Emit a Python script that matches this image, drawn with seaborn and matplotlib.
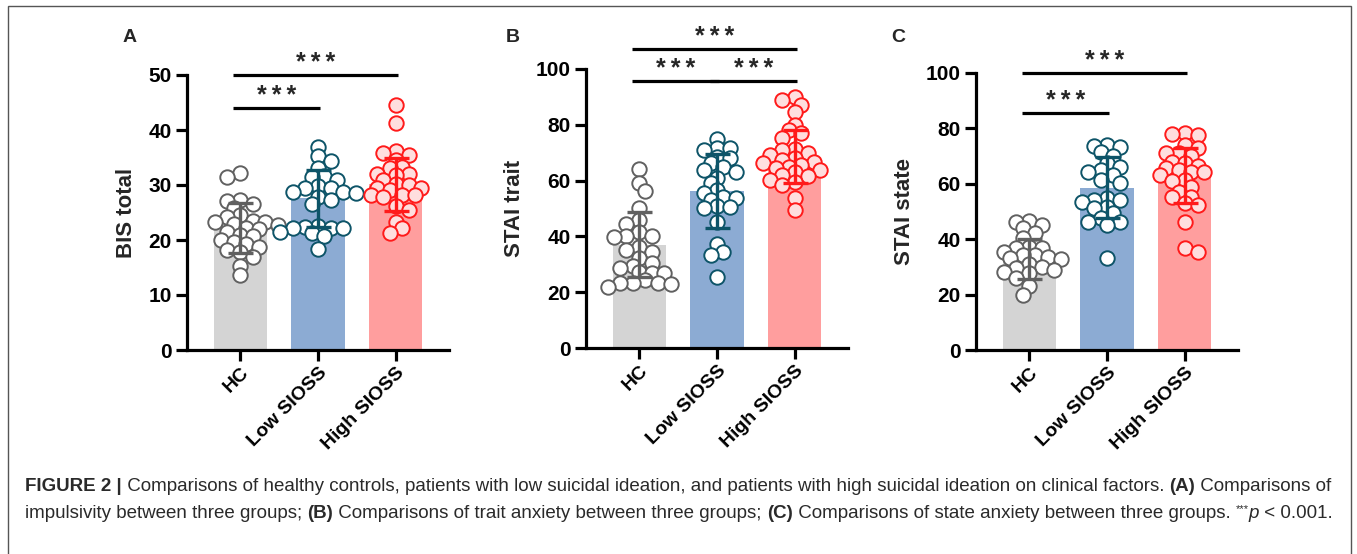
import numpy as np
import matplotlib
matplotlib.use("Agg")
import matplotlib.pyplot as plt
import seaborn as sns
from matplotlib.patches import Rectangle

# ---------------- data ----------------
groups = ["HC", "Low SIOSS", "High SIOSS"]

bis_hc = [32.2, 31.4, 27.3, 27.0, 26.5, 25.8, 24.5, 24.2, 23.5, 23.3, 23.2, 23.0, 22.8,
          22.2, 22.0, 21.5, 21.0, 20.7, 20.0, 19.7, 19.2, 18.8, 18.2, 17.8, 17.0, 15.3, 13.6]
bis_low = [36.9, 35.2, 34.3, 33.0, 31.6, 31.5, 30.9, 29.8, 29.4, 29.4, 28.8, 28.8, 28.5,
           27.8, 27.3, 26.5, 22.6, 22.4, 22.2, 22.2, 22.1, 21.5, 21.3, 20.8, 18.3]
bis_high = [44.5, 41.2, 36.2, 35.8, 35.5, 34.5, 33.3, 33.0, 32.0, 32.0, 31.8, 30.9, 30.2,
            30.0, 29.4, 29.4, 29.1, 28.2, 28.2, 28.2, 27.9, 26.1, 25.5, 23.3, 22.2, 21.2]

trait_hc = [64.2, 59.1, 56.2, 50.3, 46.0, 44.4, 41.5, 40.3, 40.1, 39.9, 36.3, 35.1, 34.5,
            32.1, 30.4, 29.5, 28.6, 27.3, 26.8, 26.8, 24.4, 23.2, 23.2, 23.2, 22.9, 22.0]
trait_low = [75.0, 71.8, 71.6, 70.8, 68.6, 68.0, 66.2, 65.0, 63.8, 63.2, 61.0, 59.0, 56.6,
             55.4, 54.3, 53.7, 53.0, 50.8, 50.6, 50.2, 45.3, 37.2, 34.5, 33.3, 25.3]
trait_high = [90.0, 88.8, 87.0, 84.7, 80.0, 78.0, 77.0, 75.2, 71.2, 70.9, 69.8, 69.0, 68.0,
              67.4, 66.8, 66.2, 65.5, 65.0, 64.4, 63.8, 63.0, 62.0, 61.5, 60.2, 59.5, 58.4,
              53.7, 49.5]

state_hc = [46.5, 46.2, 45.0, 44.0, 42.3, 40.5, 37.3, 37.0, 36.7, 35.5, 34.3, 34.2, 33.7,
            33.2, 33.0, 31.0, 30.1, 29.5, 29.0, 28.3, 27.7, 25.9, 23.0, 20.0]
state_low = [74.0, 73.8, 73.4, 71.6, 70.0, 67.4, 66.0, 65.0, 64.4, 63.2, 61.4, 60.2, 55.0,
             54.2, 54.2, 53.5, 51.7, 51.1, 49.3, 47.5, 46.3, 46.3, 45.1, 33.1]
state_high = [78.2, 78.0, 77.6, 74.0, 72.8, 71.0, 71.0, 70.0, 68.0, 67.4, 66.5, 65.6, 65.0,
              64.4, 64.4, 63.0, 61.4, 61.0, 59.0, 57.2, 55.4, 55.1, 53.0, 52.3, 46.3, 36.7,
              35.5]

bis_mean = [22.1, 27.6, 30.1]
bis_sd = [4.55, 5.15, 4.85]
trait_mean = [37.0, 56.4, 68.5]
trait_sd = [11.6, 13.3, 9.5]
state_mean = [33.0, 58.5, 63.1]
state_sd = [7.2, 11.0, 9.9]

panel_letters = ["A", "B", "C"]
y_labels = ["BIS total", "STAI trait", "STAI state"]
y_ticks = [[0, 10, 20, 30, 40, 50], [0, 20, 40, 60, 80, 100], [0, 20, 40, 60, 80, 100]]
sig_label = "*\u2009*\u2009*"

# significance brackets: (group_from, group_to, y)
sig_a = [(0, 1, 44.0), (0, 2, 50.0)]
sig_b = [(0, 1, 95.7), (1, 2, 95.7), (0, 2, 107.0)]
sig_c = [(0, 1, 85.5), (0, 2, 100.0)]

# ---------------- style ----------------
sns.set_theme(style="white")
plt.rcParams["font.family"] = ["Liberation Sans", "DejaVu Sans"]

bar_colors = ["#d4d4d4", "#8cabd3", "#ff9e9e"]
edge_colors = ["#606060", "#0d5468", "#ff1a1a"]
face_colors = ["#ffffff", "#ffffff", "#ffdede"]

W, H = 1357, 554
fig = plt.figure(figsize=(W / 100, H / 100), dpi=100)
fig.patch.set_facecolor("white")

# outer frame
fig.add_artist(Rectangle((8 / W, -0.05), 1343 / W, 1.05 - 6 / H, transform=fig.transFigure,
                         fill=False, edgecolor="#555555", linewidth=1.0))

XLIM = (-0.68, 2.68)
# axes boxes in pixels: left, top, bottom, panel-letter x
boxes = [(187, 75, 350, 123), (586, 69, 348, 506), (976, 73, 350, 891)]
AX_W = 262


def swarm_offsets(values, px_y, px_x, diam=14.0, overlap=0.6):
    vals = np.asarray(values, float)
    order = np.argsort(-vals)
    placed = []
    offs = np.zeros(len(vals))
    step = diam * 0.45 / px_x
    min_d = diam * overlap
    for n, i in enumerate(order):
        y = vals[i] * px_y
        sign = 1 if n % 2 == 0 else -1
        chosen = 0.0
        for k in range(60):
            if k == 0:
                cand = 0.0
            else:
                cand = ((k + 1) // 2) * step * (sign if k % 2 else -sign)
            ok = all(np.hypot((cand - ox) * px_x, y - oy) >= min_d for ox, oy in placed)
            if ok:
                chosen = cand
                break
        placed.append((chosen, y))
        offs[i] = chosen
    return offs


panels = [
    ([bis_hc, bis_low, bis_high], bis_mean, bis_sd, sig_a),
    ([trait_hc, trait_low, trait_high], trait_mean, trait_sd, sig_b),
    ([state_hc, state_low, state_high], state_mean, state_sd, sig_c),
]

for p, (pts, means, sds, sigs) in enumerate(panels):
    left, top, bottom, letter_x = boxes[p]
    ax = fig.add_axes([left / W, 1 - bottom / H, AX_W / W, (bottom - top) / H])
    ymax = y_ticks[p][-1]
    px_y = (bottom - top) / ymax
    px_x = AX_W / (XLIM[1] - XLIM[0])

    sns.barplot(x=groups, y=means, hue=groups, palette=bar_colors, saturation=1,
                width=0.68, legend=False, ax=ax, zorder=1, linewidth=0)

    for g in range(3):
        offs = swarm_offsets(pts[g], px_y, px_x)
        sns.scatterplot(x=g + offs, y=pts[g], ax=ax, s=108, color=face_colors[g],
                        edgecolor=edge_colors[g], linewidth=1.4, zorder=3, legend=False,
                        clip_on=False)
        ax.errorbar(g, means[g], yerr=sds[g], color=edge_colors[g], elinewidth=2.4,
                    capsize=9, capthick=2.4, zorder=5, fmt="none")

    for (a, b, y) in sigs:
        ax.plot([a - 0.09, b + 0.02], [y, y], color="black", lw=2.3, clip_on=False,
                solid_capstyle="butt", zorder=6)
        ax.text((a + b) / 2 - 0.035, y + 12 / px_y, sig_label, ha="center", va="center",
                fontsize=18, fontweight="bold", clip_on=False)

    ax.set_xlim(*XLIM)
    ax.set_ylim(0, ymax)
    ax.set_yticks(y_ticks[p])
    ax.set_yticklabels([str(t) for t in y_ticks[p]], fontsize=15, fontweight="bold")
    ax.set_xticks([0, 1, 2])
    ax.set_xticklabels(groups, fontsize=14, fontweight="bold", rotation=45, ha="right",
                       rotation_mode="anchor")
    ax.set_ylabel(y_labels[p], fontsize=16, fontweight="bold", labelpad=8)
    ax.set_xlabel("")
    for side in ["top", "right"]:
        ax.spines[side].set_visible(False)
    for side in ["left", "bottom"]:
        ax.spines[side].set_linewidth(2.3)
        ax.spines[side].set_color("black")
    ax.tick_params(axis="both", which="major", direction="out", length=8, width=2.3,
                   color="black", labelcolor="black", left=True, bottom=True)
    ax.tick_params(axis="y", pad=3)
    ax.tick_params(axis="x", pad=2)
    ax.set_facecolor("none")

    fig.text(letter_x / W, 1 - 37 / H, panel_letters[p], fontsize=14, fontweight="bold",
             ha="left", va="center")

# ---------------- caption ----------------
renderer = fig.canvas.get_renderer()
cap_size = 13.5
cap_color = "#2a2a2a"


def draw_line(segments, x0, y0):
    x = x0
    for txt, weight, style, size, dy in segments:
        t = fig.text(x / W, 1 - (y0 - dy) / H, txt, fontsize=size, fontweight=weight,
                     fontstyle=style, color=cap_color, ha="left", va="baseline")
        bb = t.get_window_extent(renderer=renderer)
        x += bb.width


line1 = [
    ("FIGURE 2 |", "bold", "normal", cap_size, 0),
    (" Comparisons of healthy controls, patients with low suicidal ideation, and patients with high suicidal ideation on clinical factors. ",
     "normal", "normal", cap_size, 0),
    ("(A)", "bold", "normal", cap_size, 0),
    (" Comparisons of", "normal", "normal", cap_size, 0),
]
line2 = [
    ("impulsivity between three groups; ", "normal", "normal", cap_size, 0),
    ("(B)", "bold", "normal", cap_size, 0),
    (" Comparisons of trait anxiety between three groups; ", "normal", "normal", cap_size, 0),
    ("(C)", "bold", "normal", cap_size, 0),
    (" Comparisons of state anxiety between three groups. ", "normal", "normal", cap_size, 0),
    ("***", "normal", "normal", 8.0, 6),
    ("p", "normal", "italic", cap_size, 0),
    (" < 0.001.", "normal", "normal", cap_size, 0),
]
draw_line(line1, 25, 491)
draw_line(line2, 25, 518)

fig.savefig("out.png", dpi=100, facecolor="white")
